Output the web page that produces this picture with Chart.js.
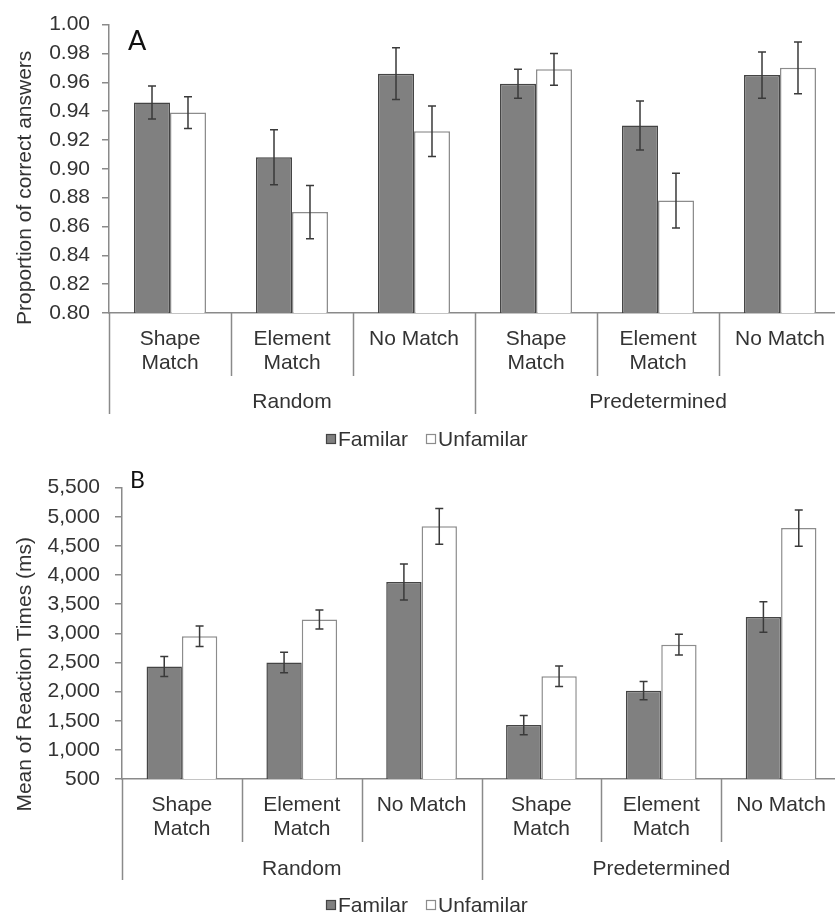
<!DOCTYPE html>
<html>
<head>
<meta charset="utf-8">
<script src="https://cdn.jsdelivr.net/npm/chart.js@4.4.1/dist/chart.umd.min.js"></script>
<style>
  html, body { margin: 0; padding: 0; background: #fff; overflow: hidden; width: 835px; height: 918px; }
  canvas { position: absolute; left: 0; display: block; }
</style>
</head>
<body>
<canvas id="chartA" width="841" height="460" style="top:0"></canvas>
<canvas id="chartB" width="841" height="458" style="top:460px"></canvas>
<script>
// Conditions along the x axis, grouped by sequence type
const categories = [['Shape', 'Match'], ['Element', 'Match'], 'No Match',
                    ['Shape', 'Match'], ['Element', 'Match'], 'No Match'];
const groupNames = ['Random', 'Predetermined'];
const groupSizes = [3, 3];
const seriesNames = ['Familar', 'Unfamilar'];

// Panel A: proportion of correct answers (mean and error)
const accTicks = [0.80, 0.82, 0.84, 0.86, 0.88, 0.90, 0.92, 0.94, 0.96, 0.98, 1.00];
const accFamiliar = [0.946, 0.908, 0.966, 0.959, 0.930, 0.965];
const accFamiliarErr = [0.0115, 0.019, 0.018, 0.010, 0.017, 0.016];
const accUnfamiliar = [0.939, 0.870, 0.926, 0.969, 0.878, 0.970];
const accUnfamiliarErr = [0.011, 0.0185, 0.0175, 0.011, 0.019, 0.018];

// Panel B: mean reaction times in ms (mean and error)
const rtTicks = [500, 1000, 1500, 2000, 2500, 3000, 3500, 4000, 4500, 5000, 5500];
const rtFamiliar = [2430, 2500, 3880, 1425, 2015, 3280];
const rtFamiliarErr = [170, 175, 310, 165, 157, 262];
const rtUnfamiliar = [2950, 3235, 4835, 2262, 2805, 4805];
const rtUnfamiliarErr = [175, 163, 305, 176, 177, 311];

const FONT = '"Liberation Sans", Arial, sans-serif';
const TEXT = '#333333';
const AXIS = '#8a8a8a';
const DARK_FILL = '#808080';
const DARK_EDGE = '#444444';
const LIGHT_EDGE = '#8c8c8c';

// Error bars, two-level category axis, y title, panel letter and legend
const panelDecor = {
  id: 'panelDecor',
  afterDatasetsDraw(chart) {
    const ctx = chart.ctx;
    const ys = chart.scales.y;
    chart.data.datasets.forEach((ds, d) => {
      const meta = chart.getDatasetMeta(d);
      meta.data.forEach((bar, i) => {
        const v = ds.data[i], e = ds.errors[i];
        const top = ys.getPixelForValue(v + e);
        const bot = ys.getPixelForValue(v - e);
        ctx.save();
        ctx.strokeStyle = '#3a3a3a';
        ctx.lineWidth = 1.5;
        ctx.beginPath();
        ctx.moveTo(bar.x, top); ctx.lineTo(bar.x, bot);
        ctx.moveTo(bar.x - 4, top); ctx.lineTo(bar.x + 4, top);
        ctx.moveTo(bar.x - 4, bot); ctx.lineTo(bar.x + 4, bot);
        ctx.stroke();
        ctx.restore();
      });
    });
  },
  afterDraw(chart, args, o) {
    const ctx = chart.ctx;
    const xs = chart.scales.x;
    const area = chart.chartArea;
    const n = chart.data.labels.length;
    const w = (xs.right - xs.left) / n;
    const axisY = area.bottom;

    // separators between categories and between groups
    const groupEdges = [0];
    groupSizes.forEach(s => groupEdges.push(groupEdges[groupEdges.length - 1] + s));
    ctx.save();
    ctx.strokeStyle = AXIS;
    ctx.lineWidth = 1.5;
    ctx.beginPath();
    for (let i = 0; i <= n; i++) {
      const x = Math.round(xs.left + i * w) + 0.5;
      const len = groupEdges.includes(i) ? o.outerTick : o.innerTick;
      ctx.moveTo(x, axisY);
      ctx.lineTo(x, axisY + len);
    }
    ctx.stroke();

    // group names
    ctx.fillStyle = TEXT;
    ctx.font = '21px ' + FONT;
    ctx.textAlign = 'center';
    ctx.textBaseline = 'alphabetic';
    groupNames.forEach((g, k) => {
      const cx = xs.left + (groupEdges[k] + groupSizes[k] / 2) * w;
      ctx.fillText(g, cx, axisY + o.groupBaseline);
    });

    // y axis title
    ctx.save();
    ctx.translate(o.titleX, (area.top + area.bottom) / 2 + o.titleShift);
    ctx.rotate(-Math.PI / 2);
    ctx.textBaseline = 'middle';
    ctx.fillText(o.title, 0, 0);
    ctx.restore();

    // panel letter
    ctx.font = o.letterSize + 'px Lato, "Open Sans", sans-serif';
    ctx.textAlign = 'left';
    ctx.textBaseline = 'alphabetic';
    ctx.fillStyle = '#111111';
    ctx.fillText(o.letter, o.letterX, o.letterY);

    // legend
    ctx.font = '21px ' + FONT;
    ctx.textBaseline = 'middle';
    let x = o.legendX;
    chart.data.datasets.forEach(ds => {
      ctx.fillStyle = ds.backgroundColor;
      ctx.fillRect(x, o.legendY - 5, 10, 10);
      ctx.strokeStyle = ds.borderColor;
      ctx.lineWidth = 1.2;
      ctx.strokeRect(x + 0.5, o.legendY - 4.5, 9, 9);
      ctx.fillStyle = TEXT;
      ctx.fillText(ds.label, x + 12, o.legendY + 1);
      x += 12 + ctx.measureText(ds.label).width + 18;
    });
    ctx.restore();
  }
};

function makeChart(id, cfg) {
  const datasets = [
    { label: seriesNames[0], data: cfg.fam, errors: cfg.famErr,
      backgroundColor: DARK_FILL, borderColor: DARK_EDGE, borderWidth: 1.5 },
    { label: seriesNames[1], data: cfg.unf, errors: cfg.unfErr,
      backgroundColor: '#ffffff', borderColor: LIGHT_EDGE, borderWidth: 1.5 }
  ].map(d => Object.assign(d, { borderSkipped: false, categoryPercentage: 0.59, barPercentage: 1.0 }));

  return new Chart(document.getElementById(id), {
    type: 'bar',
    data: { labels: categories, datasets },
    plugins: [panelDecor],
    options: {
      responsive: false,
      animation: false,
      devicePixelRatio: 1,
      layout: { padding: { top: cfg.padTop, bottom: cfg.padBottom, left: 0, right: 0 } },
      plugins: {
        legend: { display: false },
        tooltip: { enabled: false },
        panelDecor: cfg.decor
      },
      scales: {
        x: {
          grid: { display: false, drawTicks: false },
          border: { display: true, color: AXIS, width: 1.5 },
          ticks: {
            autoSkip: false, maxRotation: 0, minRotation: 0, padding: 14,
            color: TEXT, font: { family: FONT, size: 21, lineHeight: 1.14 }
          },
          afterFit: s => { s.height = 100; }
        },
        y: {
          min: cfg.ticks[0],
          max: cfg.ticks[cfg.ticks.length - 1],
          afterBuildTicks: s => { s.ticks = cfg.ticks.map(v => ({ value: v })); },
          grid: { drawOnChartArea: false, drawTicks: true, tickLength: 7, color: AXIS, lineWidth: 1.5 },
          border: { display: true, color: AXIS, width: 1.5 },
          ticks: {
            padding: cfg.tickPad, color: TEXT,
            font: { family: FONT, size: 21 },
            callback: cfg.fmt
          },
          afterFit: s => { s.width = cfg.axisLeft; }
        }
      }
    }
  });
}

makeChart('chartA', {
  fam: accFamiliar, famErr: accFamiliarErr,
  unf: accUnfamiliar, unfErr: accUnfamiliarErr,
  ticks: accTicks, fmt: v => Number(v).toFixed(2),
  axisLeft: 109, tickPad: 12, padTop: 20, padBottom: 47,
  decor: {
    title: 'Proportion of correct answers', titleX: 25.7, titleShift: 19,
    letter: 'A', letterX: 128, letterY: 50, letterSize: 27,
    innerTick: 63, outerTick: 101, groupBaseline: 95,
    legendX: 326, legendY: 439
  }
});

makeChart('chartB', {
  fam: rtFamiliar, famErr: rtFamiliarErr,
  unf: rtUnfamiliar, unfErr: rtUnfamiliarErr,
  ticks: rtTicks, fmt: v => Number(v).toLocaleString('en-US'),
  axisLeft: 122, tickPad: 15, padTop: 27, padBottom: 39,
  decor: {
    title: 'Mean of Reaction Times (ms)', titleX: 25.7, titleShift: 41,
    letter: 'B', letterX: 130, letterY: 28, letterSize: 23,
    innerTick: 63, outerTick: 101, groupBaseline: 96,
    legendX: 326, legendY: 445
  }
});
</script>
</body>
</html>
